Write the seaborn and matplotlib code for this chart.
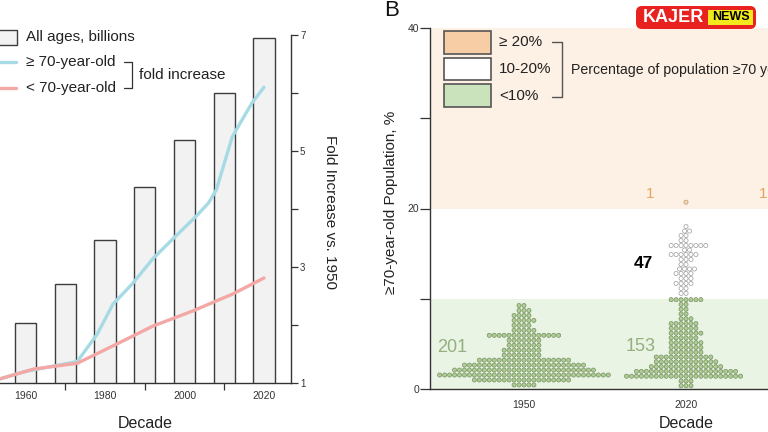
import numpy as np
import pandas as pd
import matplotlib
matplotlib.use('Agg')
import matplotlib.pyplot as plt
from matplotlib.patches import Rectangle, FancyBboxPatch
from matplotlib.colors import to_hex
import seaborn as sns
import seaborn.categorical as sns_cat
import warnings
warnings.filterwarnings('ignore')

sns.set_style('ticks')
plt.rcParams['font.family'] = ['Liberation Sans', 'DejaVu Sans']

# ---- Panel A data ----
decades = [1950, 1960, 1970, 1980, 1990, 2000, 2010, 2020]
pop_billions = [2.5, 3.03, 3.71, 4.47, 5.38, 6.19, 7.0, 7.95]

old_years = [1950, 1960, 1973, 1978, 1982, 1987, 1992, 1997, 2003, 2006, 2008, 2012, 2014, 2017, 2020]
old_fold = [1.0, 1.2, 1.37, 1.84, 2.36, 2.72, 3.14, 3.48, 3.88, 4.1, 4.33, 5.24, 5.48, 5.83, 6.1]

young_years = [1950, 1962, 1973, 1982, 1992, 2002, 2012, 2020]
young_fold = [1.0, 1.24, 1.34, 1.64, 1.98, 2.24, 2.53, 2.81]

# ---- Panel B data (share of population >=70, % per country) ----
levels_1950 = [0.45, 1.0, 1.55, 2.1, 2.65, 3.2, 3.75, 4.3, 4.85, 5.4, 5.95, 6.5, 7.05, 7.6, 8.15, 8.7, 9.25]
counts_1950 = [5, 20, 35, 29, 25, 19, 8, 8, 7, 7, 15, 5, 4, 5, 4, 3, 2]

levels_2020 = [0.36, 0.89, 1.42, 1.95, 2.48, 3.01, 3.54, 4.07, 4.6, 5.13, 5.66, 6.19, 6.72, 7.25, 7.78,
               8.31, 8.84, 9.37, 9.9,
               10.6, 11.15, 11.7, 12.25, 12.8, 13.3, 13.8, 14.35, 14.9, 15.4, 15.9, 16.45, 17.0, 17.5, 18.0,
               20.7]
counts_2020 = [3, 3, 24, 21, 15, 13, 12, 7, 7, 7, 6, 7, 6, 6, 3,
               2, 2, 2, 7,
               2, 2, 4, 3, 4, 4, 2, 3, 6, 2, 8, 2, 2, 2, 1,
               1]

band_labels = ['<10%', '10-20%', '\u2265 20%']


def band(v):
    if v < 10:
        return band_labels[0]
    if v < 20:
        return band_labels[1]
    return band_labels[2]


pct = np.concatenate([np.repeat(levels_1950, counts_1950), np.repeat(levels_2020, counts_2020)])
dec = ['1950'] * sum(counts_1950) + ['2020'] * sum(counts_2020)
df = pd.DataFrame({'decade': dec, 'pct': pct})
df['band'] = df['pct'].apply(band)

# swarm rows are wider than seaborn's default 0.8 gutter -> let them spread
_bee_init = sns_cat.Beeswarm.__init__


def _wide_bee(self, orient='x', width=0.8, warn_thresh=.05):
    _bee_init(self, orient=orient, width=1.3, warn_thresh=warn_thresh)


sns_cat.Beeswarm.__init__ = _wide_bee

# colours
bar_fc = '#f2f2f2'
dark = '#333333'
blue = '#a6dbe5'
red = '#f3a8a6'
green_fill = '#afcb96'
green_edge = '#66824f'
orange_fill = '#f7d4b0'
band_orange = '#fdf0e4'
band_green = '#e9f4e4'

fig = plt.figure(figsize=(7.68, 4.32), dpi=100)

# ================= Panel A =================
ax = fig.add_axes([-42 / 768, 49 / 432, 333 / 768, 348 / 432])
sns.barplot(x=decades, y=pop_billions, native_scale=True, width=0.53, color=bar_fc,
            edgecolor='#3d3d3d', linewidth=1.0, saturation=1, ax=ax)
ax.set_ylim(2, 8)
ax.set_yticks([])

ax2 = ax.twinx()
sns.lineplot(x=old_years, y=old_fold, color=blue, linewidth=2.4, ax=ax2)
sns.lineplot(x=young_years, y=young_fold, color=red, linewidth=2.4, ax=ax2)
ax2.set_ylim(1, 7)
ax.set_xlim(1943, 2026.8)

for a in (ax, ax2):
    for s in a.spines.values():
        s.set_visible(False)
        s.set_color(dark)
        s.set_linewidth(1.0)
ax.spines['bottom'].set_visible(True)
ax2.spines['right'].set_visible(True)

ax.set_xticks([1960, 1980, 2000, 2020])
ax.set_xticklabels(['1960', '1980', '2000', '2020'])
ax.set_xticks([1950, 1970, 1990, 2010], minor=True)
ax.tick_params(axis='x', which='major', length=0, pad=6, labelsize=7.5, labelcolor=dark)
ax.tick_params(axis='x', which='minor', length=5, width=0.9, color=dark)

ax2.set_yticks([1, 3, 5, 7])
ax2.set_yticklabels(['1', '3', '5', '7'])
ax2.set_yticks([2, 4, 6], minor=True)
ax2.tick_params(axis='y', which='both', length=5, width=0.9, color=dark, labelsize=7, pad=1.5, labelcolor=dark)
ax.set_xlabel('')
ax.set_ylabel('')
ax2.set_ylabel('')

# ================= Panel B =================
ax_b = fig.add_axes([430 / 768, 43 / 432, 512 / 768, 361 / 432])
ax_b.axhspan(0, 10, color=band_green, lw=0, zorder=0)
ax_b.axhspan(20, 40, color=band_orange, lw=0, zorder=0)

# marker diameter kept just under the row spacing so rows stay flat
sns.swarmplot(data=df, x='decade', y='pct', hue='band', order=['1950', '2020'],
              palette={band_labels[0]: green_fill, band_labels[1]: 'white', band_labels[2]: orange_fill},
              size=3.0, linewidth=0.4, edgecolor=green_edge, legend=False, ax=ax_b)

# edge colour per band
edge_map = {to_hex(green_fill): green_edge, '#ffffff': '#858585', to_hex(orange_fill): '#b08a66'}
for coll in ax_b.collections:
    fcs = coll.get_facecolors()
    if len(fcs) == 0:
        continue
    coll.set_edgecolors([edge_map.get(to_hex(c[:3]), green_edge) for c in fcs])

ax_b.set_xlim(-0.58, 2.58)
ax_b.set_ylim(0, 40)
ax_b.set_yticks([0, 20, 40])
ax_b.set_yticks([10, 30], minor=True)
ax_b.tick_params(axis='y', which='both', length=7, width=0.9, color=dark, labelsize=7.5, pad=1, labelcolor=dark)
ax_b.tick_params(axis='x', length=0, pad=8, labelsize=7.5, labelcolor=dark)
ax_b.set_xlabel('')
ax_b.set_ylabel('')
for side in ('top', 'right'):
    ax_b.spines[side].set_visible(False)
for side in ('left', 'bottom'):
    ax_b.spines[side].set_color(dark)
    ax_b.spines[side].set_linewidth(1.0)

ax_b.text(-0.44, 4.65, '201', color='#93b07e', fontsize=13, ha='center', va='center')
ax_b.text(0.72, 4.75, '153', color='#93b07e', fontsize=13, ha='center', va='center')
ax_b.text(0.74, 13.9, '47', color='black', fontsize=12.5, fontweight='bold', ha='center', va='center')
ax_b.text(0.78, 21.6, '1', color='#e3a55c', fontsize=11, ha='center', va='center')
ax_b.text(1.475, 21.6, '1', color='#e3a55c', fontsize=11, ha='center', va='center')

# ================= overlay (legends, labels) =================
ov = fig.add_axes([0, 0, 1, 1])
ov.set_xlim(0, 768)
ov.set_ylim(432, 0)
ov.axis('off')

# panel A legend
ov.add_patch(Rectangle((-5, 30), 22, 15, fc=bar_fc, ec='#3d3d3d', lw=1.0))
ov.text(26, 37.5, 'All ages, billions', fontsize=11, va='center', color='#222')
ov.plot([-5, 16], [62, 62], color=blue, lw=2.4)
ov.text(26, 62, '\u2265 70-year-old', fontsize=11, va='center', color='#222')
ov.plot([-5, 16], [88, 88], color=red, lw=2.4)
ov.text(26, 88, '< 70-year-old', fontsize=11, va='center', color='#222')
ov.plot([124, 132, 132, 124], [62, 62, 88, 88], color=dark, lw=0.9)
ov.text(139, 75, 'fold increase', fontsize=11, va='center', color='#222')

ov.text(145, 424, 'Decade', fontsize=11.5, ha='center', va='center', color='#222')
ov.text(330, 212, 'Fold Increase vs. 1950', fontsize=11, rotation=270, ha='center', va='center', color='#222')

# panel B
ov.text(384, 11, 'B', fontsize=16, ha='left', va='center', color='#111')
ov.text(391, 202, '\u226570-year-old Population, %', fontsize=11, rotation=90, ha='center', va='center', color='#222')
ov.text(686, 424, 'Decade', fontsize=11.5, ha='center', va='center', color='#222')

for y0, fc in zip([31, 57.5, 84], ['#f6cda5', 'white', '#cae3bc']):
    ov.add_patch(Rectangle((444, y0), 47, 22.5, fc=fc, ec='#555555', lw=1.2))
ov.text(499, 42, '\u2265 20%', fontsize=11, va='center', color='#222')
ov.text(499, 69, '10-20%', fontsize=11, va='center', color='#222')
ov.text(499, 96, '<10%', fontsize=11, va='center', color='#222')
ov.plot([552, 562, 562, 552], [42, 42, 97, 97], color='#555555', lw=1.0)
# the reference crops this label at the right edge
ov.text(571, 70, 'Percentage of population \u226570 years old', fontsize=10.2, va='center', color='#222')

# watermark badge
ov.add_patch(FancyBboxPatch((636, 6), 120, 23, boxstyle='round,pad=0,rounding_size=6',
                            fc='#e8231f', ec='none'))
ov.text(673, 18, 'KAJER', fontsize=13, fontweight='bold', color='white', ha='center', va='center')
ov.add_patch(Rectangle((708, 10), 45, 15, fc='#f2ea1c', ec='none'))
ov.text(730.5, 17.5, 'NEWS', fontsize=9, fontweight='bold', color='black', ha='center', va='center')

fig.savefig('out.png', dpi=100, facecolor='white')
plt.close(fig)
